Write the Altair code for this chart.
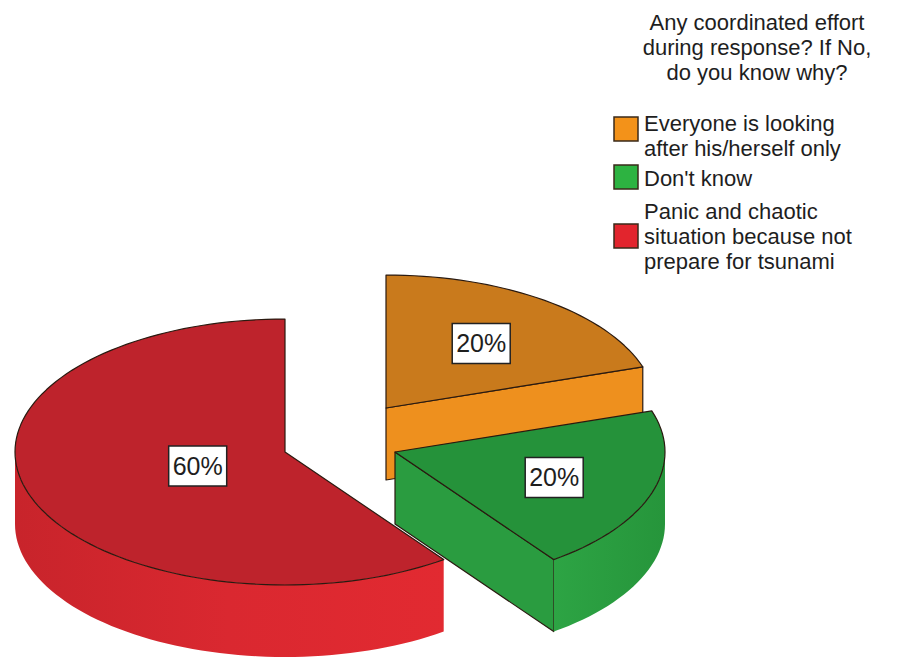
import math
import altair as alt
import pandas as pd

# ---------------- data ----------------
categories = [
    "Everyone is looking after his/herself only",
    "Don't know",
    "Panic and chaotic situation because not prepare for tsunami",
]
percents = [20, 20, 60]
slice_labels = ["20%", "20%", "60%"]
legend_title = ["Any coordinated effort", "during response? If No,", "do you know why?"]
legend_label_lines = [
    ["Everyone is looking", "after his/herself only"],
    ["Don't know"],
    ["Panic and chaotic", "situation because not", "prepare for tsunami"],
]

# ---------------- style / layout ----------------
top_colors = ["#C97A1C", "#25923A", "#BE232C"]
radial_colors = ["#EE901E", "#2A9C40", "#D4262E"]
side_gradients = [
    None,
    [("#2DA444", 0.0), ("#26953B", 1.0)],
    [("#C8242B", 0.0), ("#DA2830", 0.5), ("#E22A31", 1.0)],
]
swatch_colors = ["#F39219", "#2DB341", "#E2252D"]
edge_color = "#2a1a10"
text_color = "#1e1e1e"
FONT = "Liberation Sans"
FS = 22
LINE_H = 25

RX, RY, DEPTH = 270, 133, 72
slice_centers = [(386, 408), (395, 452), (285, 452)]   # exploded slice vertices (page px)
label_frac = [0.60, 0.62, 0.34]
box_w, box_h = 58, 40

X_DOM = [8, 893]
Y_DOM = [8, 657]
W, H = X_DOM[1] - X_DOM[0], Y_DOM[1] - Y_DOM[0]

xs = alt.Scale(domain=X_DOM, nice=False, zero=False)
ys = alt.Scale(domain=Y_DOM, nice=False, zero=False, reverse=True)
X = alt.X("x:Q", scale=xs, axis=None)
Y = alt.Y("y:Q", scale=ys, axis=None)


def rim(c, deg, dy=0.0):
    t = math.radians(deg)
    return (c[0] + RX * math.sin(t), c[1] - RY * math.cos(t) + dy)


def arc_pts(c, a, b, dy=0.0, step=2.0):
    n = max(2, int(math.ceil((b - a) / step)) + 1)
    return [rim(c, a + (b - a) * k / (n - 1), dy) for k in range(n)]


def poly_layer(points, fill, stroke=None, sw=1.2):
    df = pd.DataFrame({
        "x": [p[0] for p in points],
        "y": [p[1] for p in points],
        "i": list(range(len(points))),
    })
    kw = dict(filled=True, interpolate="linear-closed", color=fill, strokeJoin="round")
    if stroke is not None:
        kw.update(stroke=stroke, strokeWidth=sw)
    else:
        kw.update(strokeWidth=0)
    return alt.Chart(df).mark_line(**kw).encode(x=X, y=Y, order=alt.Order("i:Q"))


def gradient(stops):
    return alt.LinearGradient(
        gradient="linear", x1=0, y1=0, x2=1, y2=0,
        stops=[alt.GradientStop(color=c, offset=o) for c, o in stops],
    )


layers = []
start = 0.0
label_rows = []
for idx, pct in enumerate(percents):
    a = start
    b = start + 360.0 * pct / 100.0
    start = b
    c = slice_centers[idx]

    # radial faces (visible only if facing the viewer)
    for ang, normal in ((a, a - 90.0), (b, b + 90.0)):
        if math.cos(math.radians(normal)) < -1e-6:
            p1 = rim(c, ang)
            pts = [c, p1, (p1[0], p1[1] + DEPTH), (c[0], c[1] + DEPTH)]
            layers.append(poly_layer(pts, radial_colors[idx], edge_color))

    # outer curved side (front half only)
    lo, hi = max(a, 90.0), min(b, 270.0)
    if hi > lo:
        top = arc_pts(c, lo, hi)
        bot = arc_pts(c, lo, hi, DEPTH)[::-1]
        fill = gradient(side_gradients[idx]) if side_gradients[idx] else radial_colors[idx]
        layers.append(poly_layer(top + bot, fill, None))

    # top face
    pts = [c] + arc_pts(c, a, b)
    layers.append(poly_layer(pts, top_colors[idx], edge_color))

    mid = (a + b) / 2.0
    f = label_frac[idx]
    lx = c[0] + f * RX * math.sin(math.radians(mid))
    ly = c[1] - f * RY * math.cos(math.radians(mid))
    label_rows.append({"x": lx, "y": ly, "t": slice_labels[idx],
                       "x1": lx - box_w / 2, "x2": lx + box_w / 2,
                       "y1": ly - box_h / 2, "y2": ly + box_h / 2})

lab_df = pd.DataFrame(label_rows)
boxes = alt.Chart(lab_df).mark_rect(fill="white", stroke="#222222", strokeWidth=1.5).encode(
    x=alt.X("x1:Q", scale=xs, axis=None), x2="x2:Q",
    y=alt.Y("y1:Q", scale=ys, axis=None), y2="y2:Q",
)
texts = alt.Chart(lab_df).mark_text(font=FONT, fontSize=25, color=text_color,
                                    align="center", baseline="middle", dy=1).encode(
    x=X, y=Y, text="t:N")
layers += [boxes, texts]

# ---------------- legend (drawn in the same coordinate frame) ----------------
title_df = pd.DataFrame({"x": [757], "y": [30], "t": ["\n".join(legend_title)]})
layers.append(alt.Chart(title_df).mark_text(
    font=FONT, fontSize=FS, color=text_color, align="center", baseline="alphabetic",
    lineBreak="\n", lineHeight=LINE_H).encode(x=X, y=Y, text="t:N"))

label_x = 644
label_first_baseline = [131, 186, 219]
swatch_cy = [129, 177, 236]
swatch_half = 12
swatch_x = 626

lab_rows = []
sw_rows = []
for k, lines in enumerate(legend_label_lines):
    lab_rows.append({"x": label_x, "y": label_first_baseline[k], "t": "\n".join(lines)})
    sw_rows.append({"cat": categories[k], "col": swatch_colors[k],
                    "x1": swatch_x - swatch_half, "x2": swatch_x + swatch_half,
                    "y1": swatch_cy[k] - swatch_half, "y2": swatch_cy[k] + swatch_half})

sw_df = pd.DataFrame(sw_rows)
layers.append(alt.Chart(sw_df).mark_rect(stroke="#3a2a1a", strokeWidth=1.5).encode(
    x=alt.X("x1:Q", scale=xs, axis=None), x2="x2:Q",
    y=alt.Y("y1:Q", scale=ys, axis=None), y2="y2:Q",
    fill=alt.Fill("col:N", scale=None),
))
layers.append(alt.Chart(pd.DataFrame(lab_rows)).mark_text(
    font=FONT, fontSize=FS, color=text_color, align="left", baseline="alphabetic",
    lineBreak="\n", lineHeight=LINE_H).encode(x=X, y=Y, text="t:N"))

chart = alt.layer(*layers).properties(
    width=W, height=H, padding=0,
    autosize=alt.AutoSizeParams(type="none"),
    background="white",
).configure_view(stroke=None)

chart.save("out.html", embed_options={"renderer": "svg", "actions": False})
